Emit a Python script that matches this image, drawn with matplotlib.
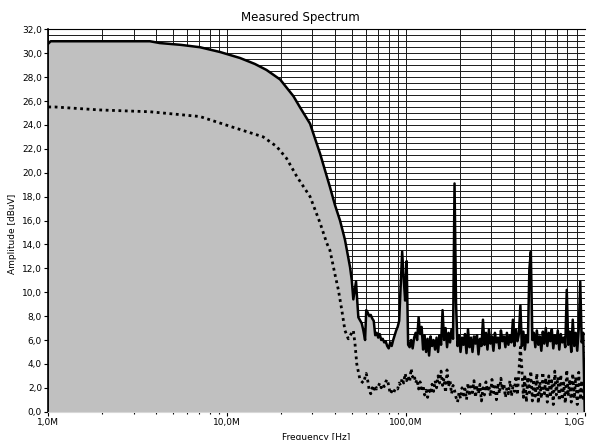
import numpy as np
import matplotlib
matplotlib.use("Agg")
import matplotlib.pyplot as plt
from matplotlib.ticker import FixedLocator, NullFormatter

# roll-off part of the spectrum, frequency in MHz
peak_f = [1.0, 1.03, 2.0, 3.0, 3.7, 4.2, 5.5, 7.05, 9.13, 11.8, 14.3, 16.6, 19.8,
          23.5, 25.5, 29.1, 33.1, 37.6, 40.1, 42.8, 45.6, 48.7, 49.8, 50.8, 52.6,
          53.1, 54.2, 56.6, 57.8, 59.1]
peak_db = [30.8, 31.0, 31.0, 31.0, 31.0, 30.85, 30.7, 30.5, 30.1, 29.6, 29.1, 28.6, 27.8,
           26.4, 25.5, 24.1, 21.6, 18.8, 17.3, 16.0, 14.4, 12.1, 11.0, 9.4, 10.9,
           9.9, 7.9, 7.4, 6.8, 6.0]

avg_f = [1.0, 1.09, 1.95, 3.7, 7.05, 10.8, 15.9, 18.9, 21.5, 24.5, 29.1, 33.1, 36.1,
         37.6, 39.3, 40.1, 41.9, 43.8, 45.6, 47.6, 49.8, 50.8, 51.9, 53.1, 55.4, 57.8]
avg_db = [25.5, 25.5, 25.25, 25.1, 24.7, 23.8, 23.0, 22.2, 21.2, 19.7, 18.0, 15.8, 14.1,
          13.5, 12.1, 11.5, 10.2, 8.5, 6.8, 6.1, 6.6, 6.8, 5.7, 4.0, 2.65, 2.4]

# noise floor sweep 60 MHz .. 1 GHz (log spaced sweep points)
sweep_f = np.geomspace(60, 1000, 147)
peak_noise = [8.5, 8.3, 8.0, 8.1, 7.8, 7.6, 6.4, 6.6, 6.2, 6.5,
              6.0, 6.1, 5.8, 5.9, 5.5, 5.3, 5.8, 5.5, 6.0, 6.4,
              6.8, 7.1, 7.6, 10.5, 13.4, 11.2, 9.3, 12.6, 5.6, 5.4,
              6.0, 5.3, 6.2, 6.6, 6.0, 7.9, 6.5, 7.1, 5.2, 6.4,
              5.0, 6.1, 4.7, 6.3, 5.5, 6.0, 5.2, 6.2, 5.0, 6.4,
              5.6, 8.5, 6.0, 7.0, 5.4, 6.6, 5.8, 6.9, 6.1, 19.1,
              9.1, 5.5, 6.4, 5.0, 6.2, 5.6, 6.5, 4.9, 6.9, 5.4,
              6.2, 5.0, 6.3, 5.7, 6.4, 4.8, 6.1, 5.5, 7.7, 5.6,
              6.6, 5.2, 6.9, 5.7, 6.3, 5.1, 6.6, 5.8, 6.2, 5.3,
              6.8, 5.9, 6.3, 5.4, 6.6, 5.6, 6.4, 5.8, 7.7, 5.5,
              6.9, 5.9, 6.5, 8.9, 5.5, 6.7, 5.2, 6.4, 5.8, 11.9,
              13.4, 6.0, 6.6, 5.4, 6.8, 5.6, 6.3, 5.1, 6.7, 5.7,
              7.0, 5.5, 6.6, 5.9, 6.9, 5.3, 6.4, 5.7, 6.8, 5.2,
              6.5, 5.8, 6.2, 5.4, 10.2, 5.6, 6.7, 5.0, 7.7, 5.5,
              6.6, 5.1, 6.9, 10.9, 5.8, 6.6, 0.0]
avg_noise = [3.2, 2.6, 1.8, 1.5, 2.0, 1.7, 2.2, 1.9, 2.1, 2.4,
             2.0, 2.3, 2.1, 2.5, 2.7, 2.2, 1.5, 1.7, 1.5, 1.8,
             2.0, 1.9, 2.4, 2.2, 2.8, 2.4, 3.2, 2.6, 3.0, 2.5,
             3.6, 2.9, 3.1, 2.4, 2.7, 1.9, 2.5, 1.7, 2.2, 1.4,
             1.8, 1.2, 2.0, 1.5, 2.3, 1.7, 2.6, 2.0, 3.0, 2.4,
             3.4, 2.2, 2.8, 1.6, 3.5, 2.1, 2.6, 1.5, 2.2, 1.8,
             1.2, 0.8, 1.6, 1.1, 2.0, 1.4, 1.9, 1.0, 2.4, 1.3,
             2.1, 1.6, 2.6, 1.2, 2.2, 1.5, 2.3, 0.9, 2.0, 1.4,
             2.5, 1.7, 2.2, 1.3, 2.7, 1.6, 2.1, 1.0, 2.4, 1.5,
             2.8, 1.8, 2.3, 1.2, 2.0, 1.5, 2.6, 1.3, 2.1, 1.7,
             3.0, 1.4, 3.3, 5.4, 3.6, 1.2, 3.1, 0.8, 2.9, 1.6,
             3.4, 0.9, 2.7, 1.3, 3.2, 0.7, 2.5, 1.1, 3.3, 1.5,
             2.8, 0.8, 3.0, 1.2, 2.6, 0.6, 3.4, 1.4, 2.9, 0.9,
             3.1, 1.0, 2.4, 0.7, 3.5, 1.3, 2.7, 0.8, 3.2, 1.1,
             2.9, 0.6, 3.3, 1.0, 2.6, 0.9, 2.2]

y_ticks = np.arange(0, 33, 2)
x_ticks = [1e6, 1e7, 1e8, 1e9]
x_labels = ["1,0M", "10,0M", "100,0M", "1,0G"]

freq_peak = np.concatenate([peak_f, sweep_f]) * 1e6
amp_peak = np.concatenate([peak_db, peak_noise])
freq_avg = np.concatenate([avg_f, sweep_f]) * 1e6
amp_avg = np.concatenate([avg_db, avg_noise])

fig = plt.figure(figsize=(5.92, 4.40), dpi=100)
ax = fig.add_axes([0.0816, 0.0643, 0.9061, 0.8691])

ax.set_xscale("log")
ax.set_xlim(1e6, 1e9)
ax.set_ylim(0, 32)

# grid (covered by the fill where the spectrum is)
grid_x = [m * 10 ** e for e in range(6, 9) for m in range(1, 10)] + [1e9]
for gx in grid_x:
    ax.axvline(gx, color="#1a1a1a", lw=0.7, zorder=0)
for gy in np.arange(0.5, 32.01, 0.5):
    ax.axhline(gy, color="#1a1a1a", lw=0.7, zorder=0)

ax.fill_between(freq_peak, amp_peak, 0, color="#c0c0c0", lw=0, zorder=1)
ax.plot(freq_peak, amp_peak, color="black", lw=1.8, zorder=3)
ax.plot(freq_avg, amp_avg, color="black", lw=2.0, linestyle=(0, (1, 1.3)),
        dash_capstyle="butt", zorder=2)

ax.set_yticks(y_ticks)
ax.set_yticklabels([f"{v:.1f}".replace(".", ",") for v in y_ticks])
ax.xaxis.set_major_locator(FixedLocator(x_ticks))
ax.set_xticklabels(x_labels)
ax.xaxis.set_minor_locator(FixedLocator([m * 10 ** e for e in range(6, 9) for m in range(2, 10)]))
ax.xaxis.set_minor_formatter(NullFormatter())
ax.tick_params(axis="both", which="major", labelsize=6.5, length=3, width=0.8, pad=1.5)
ax.tick_params(axis="x", which="minor", length=1.5, width=0.8)
ax.get_xticklabels()[-1].set_ha("right")

ax.spines["right"].set_visible(False)
ax.spines["left"].set_linewidth(1.2)
ax.spines["top"].set_linewidth(0.8)
ax.spines["bottom"].set_color("#d8d8d8")

fig.text(0.508, 1 - 18 / 440, "Measured Spectrum", ha="center", va="center", fontsize=8.5)
fig.text(316 / 592, 1 - 437 / 440, "Frequency [Hz]", ha="center", va="center", fontsize=6.5)
fig.text(13 / 592, 1 - 234 / 440, "Amplitude [dBuV]", ha="center", va="center",
         fontsize=6.5, rotation=90)

fig.savefig("out.png", dpi=100)
